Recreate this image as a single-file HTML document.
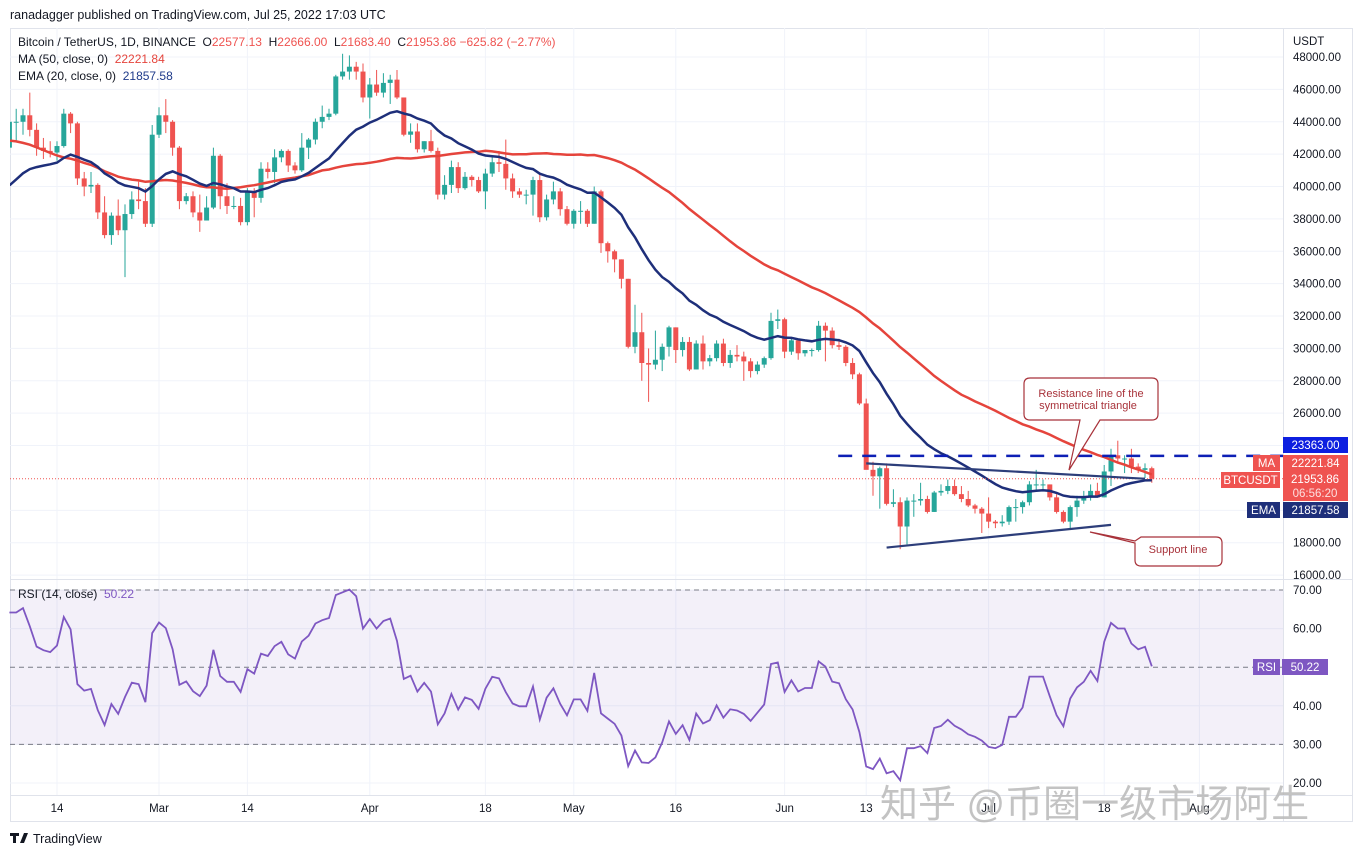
<!DOCTYPE html>
<html><head><meta charset="utf-8">
<style>
body{margin:0;background:#fff;width:1362px;height:857px;overflow:hidden;font-family:"Liberation Sans","Noto Sans CJK SC",sans-serif;}
#wrap{position:relative;width:1362px;height:857px;}
svg{position:absolute;left:0;top:0;}
</style></head>
<body>
<div id="wrap">
<svg id="chart" width="1362" height="857" font-family="Liberation Sans, Noto Sans CJK SC, sans-serif"></svg>
</div>
<script>
// ---- data (prices in thousands USDT) ----
const history = [46.7,46.9,49.0,48.9,50.8,50.4,50.8,50.7,50.6,47.5,46.5,47.1,46.3,47.7,47.3,46.4,45.8,43.4,43.1,41.6,41.9,41.8,41.8,42.7,43.9,42.6,43.1,43.2,43.1,42.3,42.4,41.7,40.7,36.5,35.1,36.3,36.7,36.9,36.8,37.2,37.7,38.2,37.9,38.5,38.7,36.9,37.3,41.6,41.4,42.4];
const closes = [44.0,44.0,44.4,43.5,42.4,42.2,42.1,42.5,44.5,43.9,40.5,40.0,40.1,38.4,37.0,38.2,37.3,38.3,39.2,39.1,37.7,43.2,
44.4,44.0,42.4,39.1,39.4,38.4,37.9,38.7,41.9,39.4,38.8,38.8,37.8,39.7,39.3,41.1,40.9,41.8,42.2,41.3,41.0,42.4,42.9,44.0,44.3,44.5,46.8,47.1,47.4,47.1,45.5,
46.3,45.8,46.4,46.6,45.5,43.2,43.4,42.3,42.8,42.2,39.5,40.1,41.2,39.9,40.6,40.4,39.7,40.8,41.5,41.4,40.5,39.7,39.5,39.5,40.4,38.1,39.2,39.7,38.6,37.7,
38.5,38.5,37.7,39.7,36.5,36.0,35.5,34.3,30.1,31.0,29.1,29.0,29.3,30.1,31.3,29.9,30.4,28.7,30.3,29.2,29.4,30.3,29.1,29.6,29.5,29.2,28.6,29.0,29.4,31.7,31.8,
29.8,30.5,29.7,29.9,29.9,31.4,31.1,30.2,30.1,29.1,28.4,26.6,22.5,22.1,22.6,20.4,20.5,19.0,20.6,20.6,20.7,19.9,21.1,21.2,21.5,21.0,20.7,20.3,20.1,19.8,
19.3,19.2,19.3,20.2,20.2,20.5,21.6,21.6,21.6,20.8,19.9,19.3,20.2,20.6,20.8,21.2,20.8,22.4,23.4,23.2,23.2,22.7,22.5,22.6,21.95];
const highs = [44.5,44.8,44.8,45.8,43.9,43.0,42.8,42.8,44.8,44.6,44.0,40.9,40.9,40.2,39.4,38.4,39.2,38.9,39.7,40.3,39.9,43.8,
44.9,45.4,44.1,42.5,39.6,39.7,39.5,39.4,42.4,42.0,40.2,39.4,39.3,39.9,39.9,41.5,41.5,42.3,42.3,42.3,41.5,43.3,43.0,44.2,45.0,44.8,46.9,48.2,48.1,47.7,47.6,
46.7,47.2,47.0,46.9,47.2,45.5,43.9,43.9,42.8,43.5,42.4,40.7,41.6,41.5,40.9,40.7,40.6,41.1,41.8,42.2,42.9,40.8,39.9,39.8,40.6,40.8,39.5,40.3,39.9,38.8,
38.6,39.1,38.6,40.0,39.8,36.6,36.1,35.5,34.3,32.7,32.2,30.0,31.1,30.3,31.4,31.3,30.7,30.7,30.5,30.8,29.6,30.5,30.6,29.9,30.2,29.8,29.4,29.2,29.5,32.2,32.4,
31.9,30.6,30.6,29.9,30.0,31.7,31.6,31.3,30.6,30.2,29.4,28.5,26.9,23.0,22.7,22.9,21.3,20.8,20.8,21.0,21.7,20.9,21.2,21.6,21.9,21.9,21.5,21.2,20.4,20.2,
20.8,19.4,19.7,20.3,20.7,20.6,21.8,22.5,21.9,21.6,21.0,20.0,20.3,20.9,21.2,21.6,21.7,22.8,23.8,24.3,23.4,23.8,22.9,22.9,22.7];
const lows = [41.7,42.8,43.2,43.1,41.9,41.7,41.8,41.6,42.4,43.3,40.1,39.4,39.6,38.0,36.8,36.4,37.0,34.4,38.0,38.6,37.5,37.5,
43.0,43.3,41.9,38.6,38.9,38.1,37.2,38.0,38.6,38.6,38.3,38.6,37.6,37.6,38.1,39.0,40.5,40.2,41.5,40.9,40.8,40.9,41.7,42.6,43.6,44.1,44.4,46.6,46.6,46.6,45.2,
44.2,45.6,45.5,45.1,45.4,43.1,42.7,42.1,42.1,42.1,39.2,39.2,39.6,39.6,39.8,40.0,39.6,38.6,40.6,40.9,39.8,39.3,39.3,38.9,38.2,37.8,37.9,38.9,38.2,37.6,
37.4,37.7,37.5,37.7,35.9,35.3,34.7,33.7,30.0,29.7,28.0,26.7,28.7,28.6,29.5,29.1,29.5,28.6,28.7,28.7,28.9,29.2,28.9,28.8,29.2,28.0,28.2,28.4,28.8,29.3,31.2,
29.4,29.6,29.3,29.5,29.5,29.8,29.2,30.0,29.9,28.9,28.1,26.5,22.6,20.9,20.1,20.3,20.2,17.6,17.9,19.6,20.3,19.8,19.9,20.9,21.0,20.9,20.5,20.2,19.8,18.6,
18.9,18.9,19.0,19.1,19.3,19.8,20.3,21.2,21.3,20.6,19.8,19.2,18.9,19.6,20.4,20.6,20.8,20.8,21.5,22.9,22.3,22.3,22.3,22.0,21.7];
const priceTicks = [48,46,44,42,40,38,36,34,32,30,28,26,18,16];
const rsiTicks = [70,60,40,30,20];
const timeLabels = ["14","Mar","14","Apr","18","May","16","Jun","13","Jul","18","Aug"];
const timeIdx = [7,22,35,53,70,83,98,114,126,144,161,175];
const resistanceLevel = 23.363;
const resLine = [[126,22.9],[167,21.95]];
const supLine = [[129,17.7],[162,19.1]];

// ---- scales ----
const X0=9.4, DX=6.8;
const xS = i => X0 + i*DX;
const yP = p => 57 + (48 - p)*16.19;
const yR = r => 590 + (70 - r)*3.86;
const svg = document.getElementById('chart');
const NS='http://www.w3.org/2000/svg';
function mk(tag, attrs, parent){const e=document.createElementNS(NS,tag);for(const k in attrs)e.setAttribute(k,attrs[k]);(parent||svg).appendChild(e);return e;}
function txt(s, attrs, parent){const e=mk('text',attrs,parent);e.textContent=s;return e;}

// frame & grid
const frame = mk('rect',{x:10.5,y:28.5,width:1342,height:793,fill:'none',stroke:'#e0e3eb'});


const grid = mk('g',{stroke:'#f0f3fa','stroke-width':1});


priceTicks.forEach(p=>mk('line',{x1:10,x2:1283,y1:yP(p),y2:yP(p)},grid));
[20,24].forEach(p=>mk('line',{x1:10,x2:1283,y1:yP(p),y2:yP(p)},grid));
rsiTicks.forEach(r=>mk('line',{x1:10,x2:1283,y1:yR(r),y2:yR(r)},grid));
timeIdx.forEach(i=>mk('line',{x1:xS(i),x2:xS(i),y1:28,y2:795},grid));
// pane separators
mk('line',{x1:10,x2:1353,y1:579.5,y2:579.5,stroke:'#e0e3eb'});
mk('line',{x1:10,x2:1353,y1:795.5,y2:795.5,stroke:'#e0e3eb'});
mk('line',{x1:1283.5,x2:1283.5,y1:28,y2:822,stroke:'#e0e3eb'});

// header
const hdr = txt('ranadagger published on TradingView.com, Jul 25, 2022 17:03 UTC',{x:10,y:19,'font-size':12.5,fill:'#131722'});


const ttl = mk('text',{x:18,y:46,'font-size':12,fill:'#131722'});


ttl.innerHTML='Bitcoin / TetherUS, 1D, BINANCE&#160; O<tspan fill="#ef5350">22577.13</tspan>&#160; H<tspan fill="#ef5350">22666.00</tspan>&#160; L<tspan fill="#ef5350">21683.40</tspan>&#160; C<tspan fill="#ef5350">21953.86 &#8722;625.82 (&#8722;2.77%)</tspan>';
const l2 = mk('text',{x:18,y:63,'font-size':12,fill:'#131722'});


l2.innerHTML='MA (50, close, 0)&#160; <tspan fill="#e5443c">22221.84</tspan>';
const l3 = mk('text',{x:18,y:80,'font-size':12,fill:'#131722'});


l3.innerHTML='EMA (20, close, 0)&#160; <tspan fill="#1e3a8a">21857.58</tspan>';

// price axis labels
txt('USDT',{x:1293,y:45,'font-size':11.5,fill:'#131722'});
priceTicks.forEach(p=>{const t=txt((p*1000).toFixed(2),{x:1293,y:yP(p)+4,'font-size':11.5,fill:'#131722'});

});
rsiTicks.forEach(r=>{const t=txt(r.toFixed(2),{x:1293,y:yR(r)+4,'font-size':11.5,fill:'#131722'});

});
timeIdx.forEach((i,k)=>{const t=txt(timeLabels[k],{x:xS(i),y:812,'font-size':11.5,fill:'#131722','text-anchor':'middle'});

});

// RSI band
const band = mk('rect',{x:10,y:yR(70),width:1273,height:yR(30)-yR(70),fill:'#7e57c2','fill-opacity':0.09});


[70,50,30].forEach(r=>mk('line',{x1:10,x2:1283,y1:yR(r),y2:yR(r),stroke:'#787b86','stroke-dasharray':'5 4','stroke-width':1}));

// indicators
const all = history.concat(closes);
const H = history.length;
function ma(n){return closes.map((c,i)=>{let s=0;for(let k=0;k<n;k++)s+=all[H+i-k];return s/n;});}
function ema(n){const a=2/(n+1);let e=all[0];const out=[];all.forEach((c,j)=>{e=j?a*c+(1-a)*e:c;if(j>=H)out.push(e);});return out;}
function rsi(n){let g=0,l=0;const out=[];for(let j=1;j<all.length;j++){const d=all[j]-all[j-1];const up=Math.max(d,0),dn=Math.max(-d,0);if(j<=n){g+=up/n;l+=dn/n;}else{g=(g*(n-1)+up)/n;l=(l*(n-1)+dn)/n;}if(j>=H)out.push(100-100/(1+g/(l||1e-9)));}return out;}
const maV=ma(50), emaV=ema(20), rsiV=rsi(14);

const clip = mk('clipPath',{id:'pc'});mk('rect',{x:10,y:28,width:1273,height:551},clip);
const gC = mk('g',{'clip-path':'url(#pc)'});


closes.forEach((c,i)=>{
  const o = i? closes[i-1] : history[H-1];
  const col = c>=o ? '#26a69a' : '#ef5350';
  const x=xS(i);
  const w=mk('line',{x1:x,x2:x,y1:yP(highs[i]),y2:yP(lows[i]),stroke:col,'stroke-width':1},gC);
  const top=yP(Math.max(o,c)), bot=yP(Math.min(o,c));
  const b=mk('rect',{x:x-2.5,y:top,width:5,height:Math.max(1,bot-top),fill:col},gC);
  
  
});
function line(vals, f, attrs, name){const d=vals.map((v,i)=>(i?'L':'M')+xS(i).toFixed(1)+' '+f(v).toFixed(1)).join(' ');const p=mk('path',Object.assign({d,fill:'none'},attrs),gC);return p;}
line(maV,yP,{stroke:'#e5443c','stroke-width':2.5},'ma50-line');
line(emaV,yP,{stroke:'#1e2f7a','stroke-width':2.5},'ema20-line');
const rl=line(rsiV,yR,{stroke:'#7e57c2','stroke-width':1.8},'rsi-line');svg.appendChild(rl);

// last price dotted line
mk('line',{x1:10,x2:1283,y1:yP(closes[closes.length-1]),y2:yP(closes[closes.length-1]),stroke:'#ef5350','stroke-dasharray':'1 2','stroke-width':1});

// drawings
const rLine=mk('line',{x1:xS(126)-28,x2:1283,y1:yP(resistanceLevel),y2:yP(resistanceLevel),stroke:'#0d1fb5','stroke-width':2.5,'stroke-dasharray':'14 10'});


const tl=mk('line',{x1:xS(resLine[0][0]),y1:yP(resLine[0][1]),x2:xS(resLine[1][0]),y2:yP(resLine[1][1]),stroke:'#2d3e7a','stroke-width':2.2});


const sl=mk('line',{x1:xS(supLine[0][0]),y1:yP(supLine[0][1]),x2:xS(supLine[1][0]),y2:yP(supLine[1][1]),stroke:'#2d3e7a','stroke-width':2.2});



// callouts
const c1=mk('g',{});


mk('path',{d:'M1030 378 H1152 Q1158 378 1158 384 V414 Q1158 420 1152 420 H1100 L1069 470 L1080 420 H1030 Q1024 420 1024 414 V384 Q1024 378 1030 378 Z',fill:'#fff',stroke:'#a8323a','stroke-width':1.2},c1);
txt('Resistance line of the',{x:1091,y:397,'font-size':11,fill:'#a8323a','text-anchor':'middle'},c1);
txt('symmetrical triangle',{x:1088,y:409,'font-size':11,fill:'#a8323a','text-anchor':'middle'},c1);
const c2=mk('g',{});


mk('path',{d:'M1141 537 H1216 Q1222 537 1222 543 V560 Q1222 566 1216 566 H1141 Q1135 566 1135 560 V543 L1090 532 L1135 541 Z',fill:'#fff',stroke:'#a8323a','stroke-width':1.2},c2);
txt('Support line',{x:1178,y:553,'font-size':11,fill:'#a8323a','text-anchor':'middle'},c2);

// axis badges
function badge(x,y,w,h,bg,label,name){const g=mk('g',{});mk('rect',{x,y,width:w,height:h,fill:bg},g);txt(label,{x:x+w/2,y:y+h/2+4,'font-size':11.5,fill:'#fff','text-anchor':'middle'},g);return g;}
badge(1283,437,65,16,'#0d1fe0','23363.00','resistance-price-badge');
badge(1253,455,27,16,'#ef5350','MA','ma-name-badge');
badge(1283,455,65,16,'#ef5350','22221.84','ma-price-badge');
badge(1221,472,59,16,'#ef5350','BTCUSDT','symbol-name-badge');
const lb=badge(1283,471,65,30,'#ef5350','','last-price-badge');
txt('21953.86',{x:1315,y:483,'font-size':11.5,fill:'#fff','text-anchor':'middle'},lb);
txt('06:56:20',{x:1315,y:497,'font-size':11.5,fill:'#fde0e0','text-anchor':'middle'},lb);
badge(1247,502,33,16,'#1e2f7a','EMA','ema-name-badge');
badge(1283,502,65,16,'#1e2f7a','21857.58','ema-price-badge');
badge(1253,659,27,16,'#7e57c2','RSI','rsi-name-badge');
badge(1282,659,46,16,'#7e57c2','50.22','rsi-value-badge');
const rl2=txt('RSI (14, close)',{x:18,y:598,'font-size':12,fill:'#131722'});


txt('50.22',{x:104,y:598,'font-size':12,fill:'#7e57c2'});

// footer logo
const lg=mk('g',{});


mk('path',{d:'M10 833 h9 v3 h-3 v7 h-3 v-7 h-3 z M20 843 l4 -10 h4 l-4 10 z',fill:'#131722'},lg);
txt('TradingView',{x:33,y:843,'font-size':12.5,fill:'#131722'},lg);

// watermark
const wm=txt('知乎 @币圈一级市场阿生',{x:880,y:817,'font-size':38,fill:'#b8b8b8','fill-opacity':0.85});


</script>
</body></html>
